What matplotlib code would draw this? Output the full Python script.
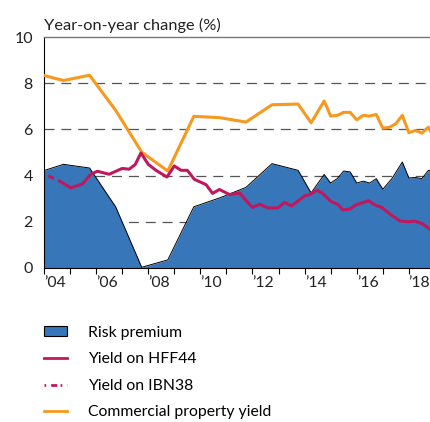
import matplotlib
matplotlib.use("Agg")
import matplotlib.pyplot as plt
from matplotlib.lines import Line2D
from matplotlib.patches import Patch

plt.rcParams['font.family'] = ['Lato', 'DejaVu Sans']

# Risk premium (area)
rp_x = [2004.0, 2004.75, 2005.75, 2006.75, 2007.75, 2008.75, 2009.75, 2010.75, 2011.75,
        2012.75, 2013.75, 2014.25, 2014.75, 2015.0, 2015.25, 2015.5, 2015.75, 2016.0,
        2016.25, 2016.5, 2016.75, 2017.0, 2017.35, 2017.75, 2018.0, 2018.25, 2018.5,
        2018.75, 2018.85]
rp_y = [4.22, 4.49, 4.33, 2.65, 0.03, 0.35, 2.65, 3.04, 3.49, 4.52, 4.23, 3.25, 4.05,
        3.68, 3.87, 4.2, 4.16, 3.68, 3.76, 3.68, 3.87, 3.41, 3.87, 4.59, 3.90, 3.92,
        3.87, 4.23, 4.23]

# Commercial property yield
cp_x = [2004.0, 2004.75, 2005.75, 2006.75, 2007.75, 2008.75, 2009.75, 2010.75, 2011.75,
        2012.75, 2013.75, 2014.25, 2014.75, 2015.0, 2015.25, 2015.5, 2015.75, 2016.0,
        2016.25, 2016.5, 2016.75, 2017.0, 2017.25, 2017.5, 2017.75, 2018.0, 2018.25,
        2018.5, 2018.75, 2018.85]
cp_y = [8.34, 8.12, 8.35, 6.83, 5.02, 4.2, 6.57, 6.51, 6.32, 7.07, 7.10, 6.29, 7.23,
        6.58, 6.61, 6.74, 6.74, 6.42, 6.61, 6.58, 6.65, 6.06, 6.09, 6.25, 6.61, 5.86,
        5.96, 5.84, 6.1, 5.89]

# Yield on IBN38 (dashed, early part)
ibn_x = [2004.17, 2004.65]
ibn_y = [3.99, 3.73]

# Yield on HFF44
hff_x = [2004.65, 2005.03, 2005.47, 2005.8, 2006.05, 2006.5, 2007.0, 2007.27, 2007.5,
         2007.72, 2008.0, 2008.3, 2008.72, 2009.0, 2009.26, 2009.5, 2009.77, 2010.22,
         2010.47, 2010.73, 2011.12, 2011.5, 2012.0, 2012.27, 2012.6, 2012.97, 2013.23,
         2013.5, 2014.0, 2014.2, 2014.47, 2014.7, 2015.0, 2015.28, 2015.47, 2015.73,
         2016.0, 2016.45, 2016.72, 2016.96, 2017.33, 2017.65, 2017.97, 2018.23, 2018.55,
         2018.85]
hff_y = [3.73, 3.47, 3.64, 4.06, 4.19, 4.06, 4.31, 4.28, 4.48, 4.98, 4.49, 4.23, 3.94,
         4.42, 4.23, 4.23, 3.84, 3.61, 3.23, 3.40, 3.18, 3.25, 2.62, 2.76, 2.6, 2.6,
         2.84, 2.69, 3.12, 3.18, 3.37, 3.23, 2.89, 2.75, 2.51, 2.55, 2.75, 2.91, 2.72,
         2.62, 2.29, 2.04, 2.0, 2.03, 1.9, 1.64]

year_labels = ["\u201904", "\u201906", "\u201908", "\u201910", "\u201912", "\u201914", "\u201916", "\u201918"]
label_pos = [2004.42, 2006.42, 2008.42, 2010.42, 2012.42, 2014.42, 2016.42, 2018.4]

blue = "#3776b9"
crimson = "#c0175d"
orange = "#f7991f"

fig = plt.figure(figsize=(4.31, 4.22), dpi=100)
ax = fig.add_axes([0.102, 0.365, 0.898, 0.547])

# gridlines
for g in [2, 4, 6, 8]:
    ax.axhline(g, color="#555555", lw=0.9, linestyle=(0, (8, 5.5)), zorder=1)

ax.fill_between(rp_x, 0, rp_y, color=blue, lw=0, zorder=2)
ax.plot(rp_x, rp_y, color="black", lw=0.7, zorder=3)
ax.plot(cp_x, cp_y, color=orange, lw=2.2, zorder=4)
ax.plot(hff_x, hff_y, color=crimson, lw=2.2, zorder=5)
ax.plot(ibn_x, ibn_y, color=crimson, lw=2.2, linestyle=(0, (2, 1.5)), zorder=5)

ax.set_xlim(2004, 2018.85)
ax.set_ylim(0, 10)

ax.set_xticks(range(2004, 2019))
ax.set_xticklabels([])
ax.set_xticks(label_pos, minor=True)
ax.set_xticklabels(year_labels, minor=True)
ax.tick_params(axis="x", which="major", length=4, width=0.8, direction="out")
ax.tick_params(axis="x", which="minor", length=0, pad=6, labelsize=11.3, colors="#222222")
ax.set_yticks([0, 2, 4, 6, 8, 10])
ax.tick_params(axis="y", length=0, pad=8, labelsize=11.5, colors="#222222")

ax.spines["right"].set_visible(False)
ax.spines["top"].set_color("#777777")
ax.spines["top"].set_linewidth(1.0)
ax.spines["left"].set_linewidth(0.8)
ax.spines["bottom"].set_linewidth(0.8)

ax.text(0.0, 1.02, "Year-on-year change (%)", transform=ax.transAxes,
        fontsize=11.8, ha="left", va="bottom", color="#222222")

handles = [
    Patch(facecolor=blue, edgecolor="black", linewidth=0.8),
    Line2D([], [], color=crimson, lw=2),
    Line2D([], [], color=crimson, lw=2, linestyle=(0, (0.6, 1.8, 2.2, 1.2))),
    Line2D([], [], color=orange, lw=2),
]
labels = ["Risk premium", "Yield on HFF44", "Yield on IBN38", "Commercial property yield"]
fig.legend(handles, labels, loc="upper left", bbox_to_anchor=(0.102, 0.228),
           frameon=False, fontsize=11.3, handlelength=1.45, handleheight=0.6,
           handletextpad=1.35, labelspacing=0.8, borderaxespad=0, borderpad=0)

fig.savefig("out.png", dpi=100)
